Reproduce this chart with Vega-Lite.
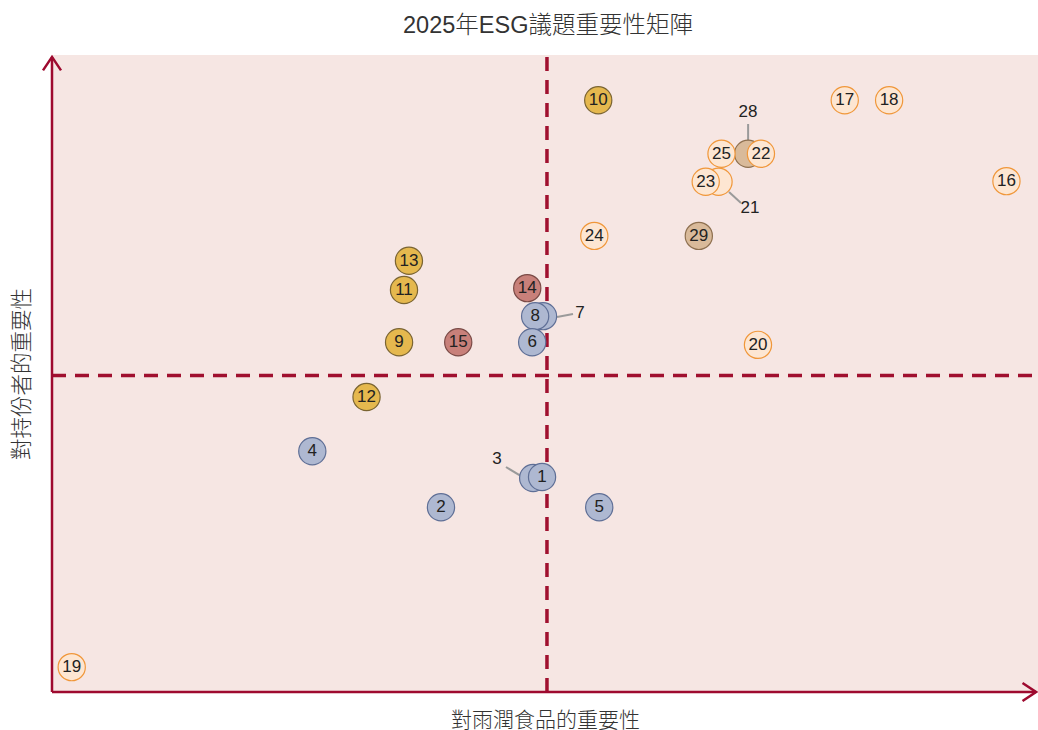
{
  "$schema": "https://vega.github.io/schema/vega-lite/v6.json",
  "width": 986,
  "height": 637,
  "autosize": "none",
  "padding": {"left": 52, "top": 55, "right": 0, "bottom": 38},
  "background": "white",
  "config": {
    "view": {"fill": "#F6E6E3", "stroke": null},
    "font": "'Liberation Sans', 'Noto Sans CJK TC', sans-serif"
  },
  "title": {"text": "2025年ESG議題重要性矩陣", "fontSize": 23.5, "fontWeight": 300, "color": "#333333", "frame": "group", "offset": 14.5, "dx": 3},
  "datasets": {
    "pts": [
      {"label": "19", "x": 0.20, "y": 0.39, "cat": "D", "callout": false},
      {"label": "2", "x": 3.945, "y": 2.90, "cat": "B", "callout": false},
      {"label": "4", "x": 2.64, "y": 3.78, "cat": "B", "callout": false},
      {"label": "5", "x": 5.55, "y": 2.90, "cat": "B", "callout": false},
      {"label": "3", "x": 4.88, "y": 3.36, "cat": "B", "callout": true},
      {"label": "1", "x": 4.97, "y": 3.375, "cat": "B", "callout": false},
      {"label": "12", "x": 3.19, "y": 4.63, "cat": "A", "callout": false},
      {"label": "9", "x": 3.52, "y": 5.49, "cat": "A", "callout": false},
      {"label": "13", "x": 3.62, "y": 6.77, "cat": "A", "callout": false},
      {"label": "11", "x": 3.57, "y": 6.31, "cat": "A", "callout": false},
      {"label": "15", "x": 4.12, "y": 5.49, "cat": "C", "callout": false},
      {"label": "14", "x": 4.82, "y": 6.34, "cat": "C", "callout": false},
      {"label": "7", "x": 4.98, "y": 5.90, "cat": "B", "callout": true},
      {"label": "8", "x": 4.90, "y": 5.90, "cat": "B", "callout": false},
      {"label": "6", "x": 4.87, "y": 5.49, "cat": "B", "callout": false},
      {"label": "10", "x": 5.54, "y": 9.29, "cat": "A", "callout": false},
      {"label": "24", "x": 5.50, "y": 7.16, "cat": "D", "callout": false},
      {"label": "29", "x": 6.56, "y": 7.16, "cat": "E", "callout": false},
      {"label": "20", "x": 7.16, "y": 5.45, "cat": "D", "callout": false},
      {"label": "21", "x": 6.76, "y": 8.01, "cat": "D", "callout": true},
      {"label": "23", "x": 6.63, "y": 8.01, "cat": "D", "callout": false},
      {"label": "28", "x": 7.06, "y": 8.45, "cat": "E", "callout": true},
      {"label": "25", "x": 6.79, "y": 8.45, "cat": "D", "callout": false},
      {"label": "22", "x": 7.19, "y": 8.45, "cat": "D", "callout": false},
      {"label": "16", "x": 9.68, "y": 8.02, "cat": "D", "callout": false},
      {"label": "17", "x": 8.04, "y": 9.29, "cat": "D", "callout": false},
      {"label": "18", "x": 8.49, "y": 9.29, "cat": "D", "callout": false}
    ],
    "callouts": [
      {"label": "3", "x": 4.513, "y": 3.658, "x1": 4.604, "y1": 3.532, "x2": 4.787, "y2": 3.36},
      {"label": "7", "x": 5.355, "y": 5.95, "x1": 5.122, "y1": 5.887, "x2": 5.284, "y2": 5.934},
      {"label": "21", "x": 7.079, "y": 7.598, "x1": 6.866, "y1": 7.849, "x2": 6.988, "y2": 7.677},
      {"label": "28", "x": 7.059, "y": 9.105, "x1": 7.06, "y1": 8.917, "x2": 7.06, "y2": 8.65}
    ],
    "quad": [
      {"x": 5.02, "y": 0, "x2": 5.02, "y2": 10},
      {"x": 0, "y": 4.97, "x2": 10, "y2": 4.97}
    ],
    "axes": [
      {"x": 0, "y": 0, "x2": 9.98, "y2": 0},
      {"x": 0, "y": 0, "x2": 0, "y2": 9.97}
    ],
    "arrowX": [{"x": 9.98, "y": 0}],
    "arrowY": [{"x": 0, "y": 9.97}]
  },
  "encoding": {
    "x": {"field": "x", "type": "quantitative", "scale": {"domain": [0, 10], "nice": false, "zero": false},
          "axis": {"title": "對雨潤食品的重要性", "domain": false, "ticks": false, "labels": false, "grid": false, "titleFontSize": 21, "titleFontWeight": 300, "titleColor": "#333333", "titlePadding": 17.5}},
    "y": {"field": "y", "type": "quantitative", "scale": {"domain": [0, 10], "nice": false, "zero": false},
          "axis": {"title": "對持份者的重要性", "domain": false, "ticks": false, "labels": false, "grid": false, "titleFontSize": 21.5, "titleFontWeight": 300, "titleColor": "#333333", "titlePadding": 19}}
  },
  "layer": [
    {
      "data": {"name": "quad"},
      "mark": {"type": "rule", "color": "#A0102F", "strokeWidth": 3.5, "strokeDash": [14, 9]},
      "encoding": {
        "x2": {"field": "x2"},
        "y2": {"field": "y2"}
      }
    },
    {
      "data": {"name": "axes"},
      "mark": {"type": "rule", "color": "#9E0A2F", "strokeWidth": 2.5},
      "encoding": {
        "x2": {"field": "x2"},
        "y2": {"field": "y2"}
      }
    },
    {
      "data": {"name": "arrowX"},
      "mark": {"type": "point", "shape": "M-1.5,-1L0,0L-1.5,1", "size": 324, "filled": false, "stroke": "#9E0A2F", "strokeWidth": 2.5, "opacity": 1},
      "encoding": {}
    },
    {
      "data": {"name": "arrowY"},
      "mark": {"type": "point", "shape": "M-1.5,-1L0,0L-1.5,1", "size": 324, "angle": 270, "filled": false, "stroke": "#9E0A2F", "strokeWidth": 2.5, "opacity": 1},
      "encoding": {}
    },
    {
      "data": {"name": "callouts"},
      "mark": {"type": "rule", "color": "#9a9a9a", "strokeWidth": 2},
      "encoding": {
        "x": {"field": "x1", "type": "quantitative"},
        "y": {"field": "y1", "type": "quantitative"},
        "x2": {"field": "x2"},
        "y2": {"field": "y2"}
      }
    },
    {
      "data": {"name": "pts"},
      "mark": {"type": "point", "shape": "circle", "size": 740, "filled": true, "opacity": 1, "strokeWidth": 1.2},
      "encoding": {
        "fill": {"field": "cat", "type": "nominal", "scale": {"domain": ["A", "B", "C", "D", "E"], "range": ["#E5B84E", "#AEB8D1", "#C8807A", "#FDE6D2", "#D9BA9A"]}, "legend": null},
        "stroke": {"field": "cat", "type": "nominal", "scale": {"domain": ["A", "B", "C", "D", "E"], "range": ["#7A6432", "#5F6F96", "#7A4A46", "#F0973A", "#8E7050"]}, "legend": null}
      }
    },
    {
      "data": {"name": "pts"},
      "transform": [{"filter": "!datum.callout"}],
      "mark": {"type": "text", "fontSize": 17, "color": "#222222", "align": "center", "baseline": "middle"},
      "encoding": {
        "text": {"field": "label"}
      }
    },
    {
      "data": {"name": "callouts"},
      "mark": {"type": "text", "fontSize": 17, "color": "#222222", "align": "center", "baseline": "middle"},
      "encoding": {
        "text": {"field": "label"}
      }
    }
  ]
}
